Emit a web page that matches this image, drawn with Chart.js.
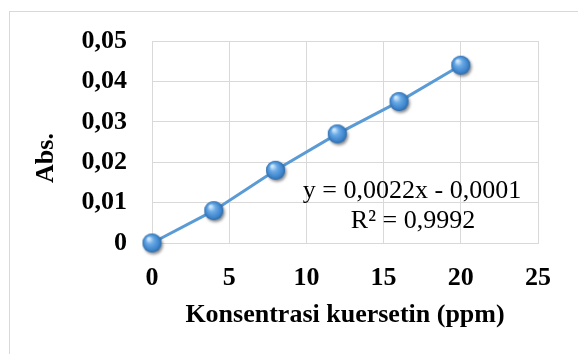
<!DOCTYPE html>
<html>
<head>
<meta charset="utf-8">
<script src="https://cdn.jsdelivr.net/npm/chart.js@4.4.1/dist/chart.umd.min.js"></script>
<style>
  html, body { margin: 0; padding: 0; background: #fff; }
  #wrap { width: 578px; height: 354px; }
</style>
</head>
<body>
<div id="wrap"><canvas id="c" width="578" height="354"></canvas></div>
<script>
// data
const concentrations = [0, 4, 8, 12, 16, 20];
const absorbances = [0, 0.008, 0.018, 0.027, 0.035, 0.044];
const equationLines = ['y = 0,0022x - 0,0001', 'R² = 0,9992'];
const xTitle = 'Konsentrasi kuersetin (ppm)';
const yTitle = 'Abs.';

const GRID = '#d9d9d9';
const BLUE = '#5b9bd5';
const SERIF = '"Liberation Serif", "Times New Roman", serif';

// shaded sphere used as marker
function makeSphere(r) {
  const size = r * 2 + 10;
  const cv = document.createElement('canvas');
  cv.width = size; cv.height = size;
  const g = cv.getContext('2d');
  const c = size / 2;
  g.save();
  g.shadowColor = 'rgba(0,0,0,0.45)';
  g.shadowBlur = 3;
  g.shadowOffsetX = 1.5;
  g.shadowOffsetY = 2;
  g.beginPath();
  g.arc(c, c, r, 0, Math.PI * 2);
  g.fillStyle = '#3f7fc0';
  g.fill();
  g.restore();
  const grad = g.createRadialGradient(c - r * 0.35, c - r * 0.45, r * 0.1, c, c, r);
  grad.addColorStop(0, '#cfe6fb');
  grad.addColorStop(0.35, '#6aaae6');
  grad.addColorStop(0.8, '#3e85cc');
  grad.addColorStop(1, '#2f6aa8');
  g.beginPath();
  g.arc(c, c, r, 0, Math.PI * 2);
  g.fillStyle = grad;
  g.fill();
  return cv;
}
const sphere = makeSphere(9.5);

const decor = {
  id: 'decor',
  beforeDraw(chart) {
    const ctx = chart.ctx;
    ctx.save();
    ctx.fillStyle = '#fff';
    ctx.fillRect(0, 0, chart.width, chart.height);
    ctx.strokeStyle = GRID;
    ctx.lineWidth = 1;
    ctx.strokeRect(9.5, 11.5, 800, 800);
    ctx.restore();
  },
  afterDraw(chart) {
    const ctx = chart.ctx;
    const a = chart.chartArea;
    ctx.save();
    ctx.fillStyle = '#000';
    ctx.textAlign = 'center';
    ctx.textBaseline = 'alphabetic';
    ctx.font = 'normal 26px ' + SERIF;
    ctx.fillText(equationLines[0], 412, 198);
    ctx.fillText(equationLines[1], 413, 228);
    ctx.font = 'bold 26px ' + SERIF;
    ctx.fillText(xTitle, (a.left + a.right) / 2, 322);
    ctx.translate(46, 158);
    ctx.rotate(-Math.PI / 2);
    ctx.textBaseline = 'middle';
    ctx.fillText(yTitle, 0, 0);
    ctx.restore();
  }
};

new Chart(document.getElementById('c'), {
  type: 'scatter',
  data: {
    datasets: [{
      data: concentrations.map((x, i) => ({ x, y: absorbances[i] })),
      showLine: true,
      borderColor: BLUE,
      borderWidth: 3,
      pointStyle: sphere,
      pointRadius: 10,
      pointHoverRadius: 10,
      clip: false
    }]
  },
  options: {
    responsive: false,
    animation: false,
    layout: { padding: { top: 41, right: 40, left: 0, bottom: 0 } },
    plugins: { legend: { display: false }, tooltip: { enabled: false } },
    scales: {
      x: {
        min: 0, max: 25,
        afterFit: s => { s.height = 111; },
        ticks: {
          stepSize: 5,
          padding: 20,
          color: '#000',
          font: { family: SERIF, size: 26, weight: 'bold' }
        },
        grid: { color: GRID, drawTicks: false },
        border: { color: GRID }
      },
      y: {
        min: 0, max: 0.05,
        afterFit: s => { s.width = 152; },
        ticks: {
          stepSize: 0.01,
          padding: 25,
          color: '#000',
          font: { family: SERIF, size: 26, weight: 'bold' },
          callback: v => v === 0 ? '0' : v.toFixed(2).replace('.', ',')
        },
        grid: { color: GRID, drawTicks: false },
        border: { color: GRID }
      }
    }
  },
  plugins: [decor]
});
</script>
</body>
</html>
